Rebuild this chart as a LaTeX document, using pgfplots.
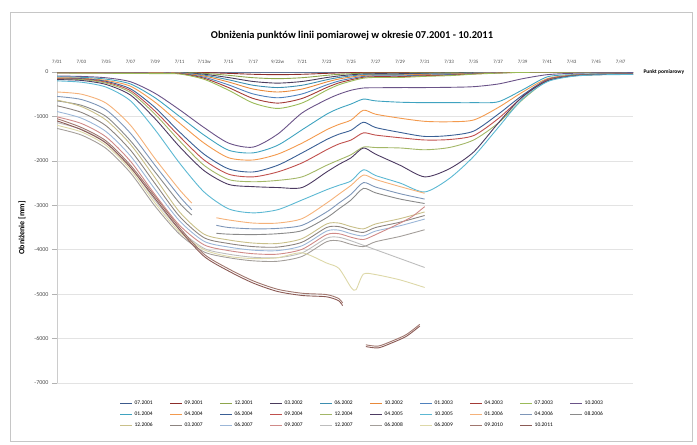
\documentclass[border=0pt]{standalone}
\usepackage{fontspec}
\setmainfont{Carlito}
\usepackage{pgfplots}
\pgfplotsset{compat=1.18}
\definecolor{c1}{HTML}{3C5A8C}
\definecolor{c2}{HTML}{8C2D2A}
\definecolor{c3}{HTML}{8EA64C}
\definecolor{c4}{HTML}{4A3B5C}
\definecolor{c5}{HTML}{3D8EB0}
\definecolor{c6}{HTML}{E8893A}
\definecolor{c7}{HTML}{4F81BD}
\definecolor{c8}{HTML}{A33A36}
\definecolor{c9}{HTML}{9BBB59}
\definecolor{c10}{HTML}{6A5388}
\definecolor{c11}{HTML}{3FA3C0}
\definecolor{c12}{HTML}{F39A4E}
\definecolor{c13}{HTML}{3A5F95}
\definecolor{c14}{HTML}{C0504D}
\definecolor{c15}{HTML}{A3B767}
\definecolor{c16}{HTML}{4D3B62}
\definecolor{c17}{HTML}{5CB8D3}
\definecolor{c18}{HTML}{F5B27A}
\definecolor{c19}{HTML}{7E96B8}
\definecolor{c20}{HTML}{8A8A8A}
\definecolor{c21}{HTML}{C9C08A}
\definecolor{c22}{HTML}{8C8480}
\definecolor{c23}{HTML}{9CB7D8}
\definecolor{c24}{HTML}{D08A88}
\definecolor{c25}{HTML}{BDBDBD}
\definecolor{c26}{HTML}{A39E9A}
\definecolor{c27}{HTML}{DDD8A8}
\definecolor{c28}{HTML}{A0766E}
\definecolor{c29}{HTML}{8B5A55}
\begin{document}
\begin{tikzpicture}
\path[use as bounding box] (0pt,0pt) rectangle (697pt,445pt);
\draw[gray!45, line width=0.8pt] (10pt,4pt) rectangle (692pt,433pt);
\node[font=\fontsize{10.5}{12}\selectfont\bfseries] at (352pt,409pt) {Obniżenia punktów linii pomiarowej w okresie 07.2001 - 10.2011};
\node[rotate=90, font=\fontsize{8}{9}\selectfont\bfseries] at (22pt,217pt) {Obniżenie [mm]};
\begin{axis}[
  at={(57pt,62pt)}, anchor=south west,
  width=576pt, height=311pt, scale only axis,
  xmin=1, xmax=48, ymin=-7000, ymax=0,
  axis x line*=top, axis y line*=left,
  x axis line style={gray!70, line width=0.6pt, -},
  y axis line style={gray!40, line width=0.5pt, -},
  ymajorgrids, grid style={gray!22, line width=0.5pt},
  ytick={-7000,-6000,...,0},
  xtick={1,3,...,47},
  xticklabels={7/01,7/03,7/05,7/07,7/09,7/11,7/13w,7/15,7/17,9/22w,7/21,7/23,7/25,7/27,7/29,7/31,7/33,7/35,7/37,7/39,7/41,7/43,7/45,7/47},
  x tick label style={font=\fontsize{5}{6}\selectfont, text=black!70},
  y tick label style={font=\fontsize{6}{7}\selectfont, text=black!70},
  xtick style={draw=none},
  ytick style={gray!60, line width=0.5pt},
  tick align=outside, major tick length=5pt,
  /pgf/number format/assume math mode=true,
  /pgf/number format/1000 sep={},
  unbounded coords=jump,
  every axis plot/.append style={line width=0.9pt, mark=none, smooth, tension=0.45},
  legend columns=10,
  legend cell align=left,
  legend style={draw=none, fill=none, at={(0.53,-0.045)}, anchor=north,
    font=\fontsize{5.5}{6}\selectfont, row sep=1.5pt,
    /tikz/every even column/.append style={column sep=15pt}},
  legend image code/.code={\draw[#1, line width=0.9pt] (0pt,0pt) -- (12pt,0pt);},
]
\addplot[c1] coordinates {(1,0) (48,0)};
\addlegendentry{07.2001}
\addplot[c2] coordinates {(1,0) (3,0) (5,0) (7,0) (9,0) (11,-1) (13,-12) (15,-30) (17,-51) (19,-60) (21,-51) (23,-30) (24,-21) (25,-15) (26,-10) (27,-9) (29,-9) (31,-7) (33,-6) (35,-4) (37,-2) (39,-1) (41,0) (43,0) (45,0) (48,0)};
\addlegendentry{09.2001}
\addplot[c3] coordinates {(1,0) (3,-2) (5,-3) (7,-3) (9,-3) (11,-5) (13,-30) (15,-75) (17,-128) (19,-150) (21,-128) (23,-75) (24,-53) (25,-38) (26,-26) (27,-23) (29,-23) (31,-18) (33,-15) (35,-9) (37,-5) (39,-2) (41,0) (43,0) (45,0) (48,0)};
\addlegendentry{12.2001}
\addplot[c4] coordinates {(1,-5) (3,-6) (5,-7) (7,-7) (9,-8) (11,-10) (13,-50) (15,-125) (17,-213) (19,-250) (21,-213) (23,-125) (24,-88) (25,-63) (26,-43) (27,-38) (29,-38) (31,-30) (33,-25) (35,-15) (37,-8) (39,-3) (41,-1) (43,0) (45,0) (48,0)};
\addlegendentry{03.2002}
\addplot[c5] coordinates {(1,-8) (3,-9) (5,-10) (7,-10) (9,-11) (11,-14) (13,-70) (15,-175) (17,-298) (19,-350) (21,-298) (23,-175) (24,-123) (25,-88) (26,-60) (27,-53) (29,-53) (31,-42) (33,-35) (35,-21) (37,-11) (39,-4) (41,-2) (43,-1) (45,0) (48,0)};
\addlegendentry{06.2002}
\addplot[c6] coordinates {(1,-10) (3,-12) (5,-13) (7,-14) (9,-15) (11,-20) (13,-90) (15,-225) (17,-383) (19,-450) (21,-383) (23,-225) (24,-158) (25,-113) (26,-77) (27,-68) (29,-68) (31,-54) (33,-45) (35,-27) (37,-14) (39,-5) (41,-3) (43,-2) (45,-1) (48,0)};
\addlegendentry{10.2002}
\addplot[c7] coordinates {(1,-14) (3,-16) (5,-18) (7,-20) (9,-22) (11,-28) (13,-116) (15,-290) (17,-493) (19,-580) (21,-493) (23,-290) (24,-203) (25,-145) (26,-99) (27,-87) (29,-87) (31,-70) (33,-58) (35,-35) (37,-17) (39,-6) (41,-4) (43,-3) (45,-2) (48,-1)};
\addlegendentry{01.2003}
\addplot[c8] coordinates {(1,-18) (3,-20) (5,-22) (7,-25) (9,-28) (11,-35) (13,-140) (15,-350) (17,-595) (19,-700) (21,-595) (23,-350) (24,-245) (25,-175) (26,-119) (27,-105) (29,-105) (31,-84) (33,-70) (35,-42) (37,-21) (39,-7) (41,-5) (43,-4) (45,-3) (48,-2)};
\addlegendentry{04.2003}
\addplot[c9] coordinates {(1,-22) (3,-25) (5,-28) (7,-32) (9,-36) (11,-45) (13,-164) (15,-410) (17,-697) (19,-820) (21,-697) (23,-410) (24,-287) (25,-205) (26,-139) (27,-123) (29,-123) (31,-98) (33,-82) (35,-49) (37,-25) (39,-8) (41,-6) (43,-5) (45,-4) (48,-3)};
\addlegendentry{07.2003}
\addplot[c10] coordinates {(1,-90) (3,-100) (5,-130) (7,-220) (9,-480) (11,-850) (13,-1250) (15,-1600) (17,-1690) (19,-1400) (21,-920) (23,-620) (24,-500) (25,-410) (26,-360) (27,-355) (29,-350) (31,-350) (33,-345) (35,-330) (37,-270) (39,-150) (41,-60) (43,-30) (45,-20) (48,-15)};
\addlegendentry{10.2003}
\addplot[c11] coordinates {(1,-110) (3,-120) (5,-160) (7,-270) (9,-580) (11,-1000) (13,-1420) (15,-1760) (17,-1820) (19,-1650) (21,-1300) (23,-950) (24,-820) (25,-720) (26,-610) (27,-650) (29,-680) (31,-690) (33,-690) (35,-690) (37,-670) (39,-400) (41,-110) (43,-60) (45,-40) (48,-30)};
\addlegendentry{01.2004}
\addplot[c12] coordinates {(1,-130) (3,-140) (5,-190) (7,-320) (9,-680) (11,-1150) (13,-1600) (15,-1930) (17,-1980) (19,-1850) (21,-1600) (23,-1300) (24,-1180) (25,-1080) (26,-860) (27,-950) (29,-1040) (31,-1110) (33,-1120) (35,-1080) (37,-800) (39,-450) (41,-150) (43,-70) (45,-45) (48,-35)};
\addlegendentry{04.2004}
\addplot[c13] coordinates {(1,-140) (3,-150) (5,-210) (7,-380) (9,-800) (11,-1350) (13,-1850) (15,-2180) (17,-2250) (19,-2100) (21,-1820) (23,-1520) (24,-1400) (25,-1310) (26,-1130) (27,-1250) (29,-1360) (31,-1450) (33,-1430) (35,-1330) (37,-950) (39,-520) (41,-170) (43,-80) (45,-50) (48,-40)};
\addlegendentry{06.2004}
\addplot[c14] coordinates {(1,-150) (3,-160) (5,-230) (7,-420) (9,-880) (11,-1450) (13,-1980) (15,-2300) (17,-2360) (19,-2250) (21,-2045) (23,-1750) (24,-1620) (25,-1530) (26,-1370) (27,-1420) (29,-1480) (31,-1530) (33,-1520) (35,-1430) (37,-1050) (39,-560) (41,-180) (43,-85) (45,-55) (48,-45)};
\addlegendentry{09.2004}
\addplot[c15] coordinates {(1,-160) (3,-170) (5,-250) (7,-460) (9,-950) (11,-1550) (13,-2100) (15,-2420) (17,-2470) (19,-2440) (21,-2360) (23,-2100) (24,-1980) (25,-1860) (26,-1690) (27,-1700) (29,-1710) (31,-1750) (33,-1700) (35,-1530) (37,-1150) (39,-620) (41,-200) (43,-90) (45,-60) (48,-50)};
\addlegendentry{12.2004}
\addplot[c16] coordinates {(1,-170) (3,-190) (5,-280) (7,-520) (9,-1050) (11,-1680) (13,-2220) (15,-2530) (17,-2580) (19,-2600) (21,-2600) (23,-2250) (24,-2080) (25,-1930) (26,-1710) (27,-1850) (29,-2100) (31,-2360) (33,-2180) (35,-1800) (37,-1150) (39,-550) (41,-200) (43,-90) (45,-60) (48,-50)};
\addlegendentry{04.2005}
\addplot[c17] coordinates {(1,-200) (3,-230) (5,-340) (7,-650) (9,-1300) (11,-2050) (13,-2700) (15,-3080) (17,-3170) (19,-3100) (21,-2880) (23,-2650) (24,-2550) (25,-2450) (26,-2200) (27,-2330) (29,-2500) (31,-2700) (33,-2400) (35,-1900) (37,-1250) (39,-600) (41,-220) (43,-100) (45,-65) (48,-55)};
\addlegendentry{10.2005}
\addplot[c18] coordinates {(1,-450) (3,-500) (5,-700) (7,-1200) (9,-1950) (11,-2650) (12,-2950) (13,nan) (14,-3280) (15,-3330) (17,-3400) (19,-3400) (21,-3300) (23,-2950) (24,-2750) (25,-2550) (26,-2320) (27,-2420) (29,-2580) (31,-2730)};
\addlegendentry{01.2006}
\addplot[c19] coordinates {(1,-550) (3,-620) (5,-850) (7,-1380) (9,-2100) (11,-2800) (12,-3100) (13,nan) (14,-3450) (15,-3500) (17,-3530) (19,-3520) (21,-3450) (23,-3150) (24,-2950) (25,-2750) (26,-2490) (27,-2590) (29,-2740) (31,-2860)};
\addlegendentry{04.2006}
\addplot[c20] coordinates {(1,-650) (3,-750) (5,-1000) (7,-1550) (9,-2250) (11,-2950) (12,-3220) (13,nan) (14,-3630) (15,-3650) (17,-3660) (19,-3640) (21,-3570) (23,-3280) (24,-3080) (25,-2880) (26,-2620) (27,-2720) (29,-2860) (31,-2960)};
\addlegendentry{08.2006}
\addplot[c21] coordinates {(1,-630) (3,-780) (5,-1080) (7,-1630) (9,-2380) (11,-3150) (13,-3650) (15,-3780) (17,-3850) (19,-3860) (21,-3750) (23,-3420) (24,-3400) (25,-3480) (26,-3530) (27,-3420) (29,-3300) (31,-3150)};
\addlegendentry{12.2006}
\addplot[c22] coordinates {(1,-760) (3,-910) (5,-1210) (7,-1760) (9,-2510) (11,-3250) (13,-3730) (15,-3860) (17,-3930) (19,-3940) (21,-3830) (23,-3500) (24,-3480) (25,-3560) (26,-3610) (27,-3500) (29,-3380) (31,-3230)};
\addlegendentry{03.2007}
\addplot[c23] coordinates {(1,-890) (3,-1040) (5,-1340) (7,-1890) (9,-2640) (11,-3350) (13,-3810) (15,-3940) (17,-4010) (19,-4020) (21,-3910) (23,-3580) (24,-3560) (25,-3640) (26,-3690) (27,-3580) (29,-3460) (31,-3310)};
\addlegendentry{06.2007}
\addplot[c24] coordinates {(1,-1010) (3,-1160) (5,-1460) (7,-2010) (9,-2760) (11,-3450) (13,-3890) (15,-4020) (17,-4090) (19,-4100) (21,-3990) (23,-3660) (24,-3640) (25,-3720) (26,-3770) (27,-3660) (29,-3400) (30,-3250) (31,-3030)};
\addlegendentry{09.2007}
\addplot[c25] coordinates {(1,-1140) (3,-1290) (5,-1590) (7,-2140) (9,-2890) (11,-3550) (13,-3970) (15,-4100) (17,-4170) (19,-4180) (21,-4070) (23,-3740) (24,-3720) (25,-3800) (26,-3900) (27,-4000) (29,-4200) (31,-4400)};
\addlegendentry{12.2007}
\addplot[c26] coordinates {(1,-1270) (3,-1420) (5,-1720) (7,-2270) (9,-3020) (11,-3650) (13,-4050) (15,-4180) (17,-4250) (19,-4260) (21,-4150) (23,-3820) (24,-3800) (25,-3880) (26,-3930) (27,-3820) (29,-3700) (31,-3550)};
\addlegendentry{06.2008}
\addplot[c27] coordinates {(1,-1200) (3,-1350) (5,-1650) (7,-2200) (9,-2950) (11,-3600) (13,-4000) (15,-4150) (17,-4200) (19,-4180) (21,-4070) (23,-4300) (24,-4420) (25,-4850) (25.4,-4900) (26,-4550) (27,-4560) (29,-4680) (31,-4850)};
\addlegendentry{06.2009}
\addplot[c28] coordinates {(1,-1050) (3,-1250) (5,-1550) (7,-2100) (9,-2800) (11,-3500) (13,-4100) (15,-4430) (17,-4700) (19,-4890) (21,-4980) (23,-5010) (24,-5100) (24.3,-5200) (25,nan) (26.2,-6140) (27.2,-6170) (28.3,-6060) (29.5,-5910) (30.6,-5680)};
\addlegendentry{09.2010}
\addplot[c29] coordinates {(1,-1100) (3,-1300) (5,-1600) (7,-2150) (9,-2850) (11,-3550) (13,-4150) (15,-4480) (17,-4750) (19,-4940) (21,-5030) (23,-5060) (24,-5150) (24.3,-5260) (25,nan) (26.2,-6180) (27.2,-6210) (28.3,-6100) (29.5,-5950) (30.6,-5720)};
\addlegendentry{10.2011}
\end{axis}
\node[anchor=west, font=\fontsize{5.5}{6}\selectfont\bfseries] at (640pt,373pt) {Punkt pomiarowy};
\end{tikzpicture}
\end{document}
